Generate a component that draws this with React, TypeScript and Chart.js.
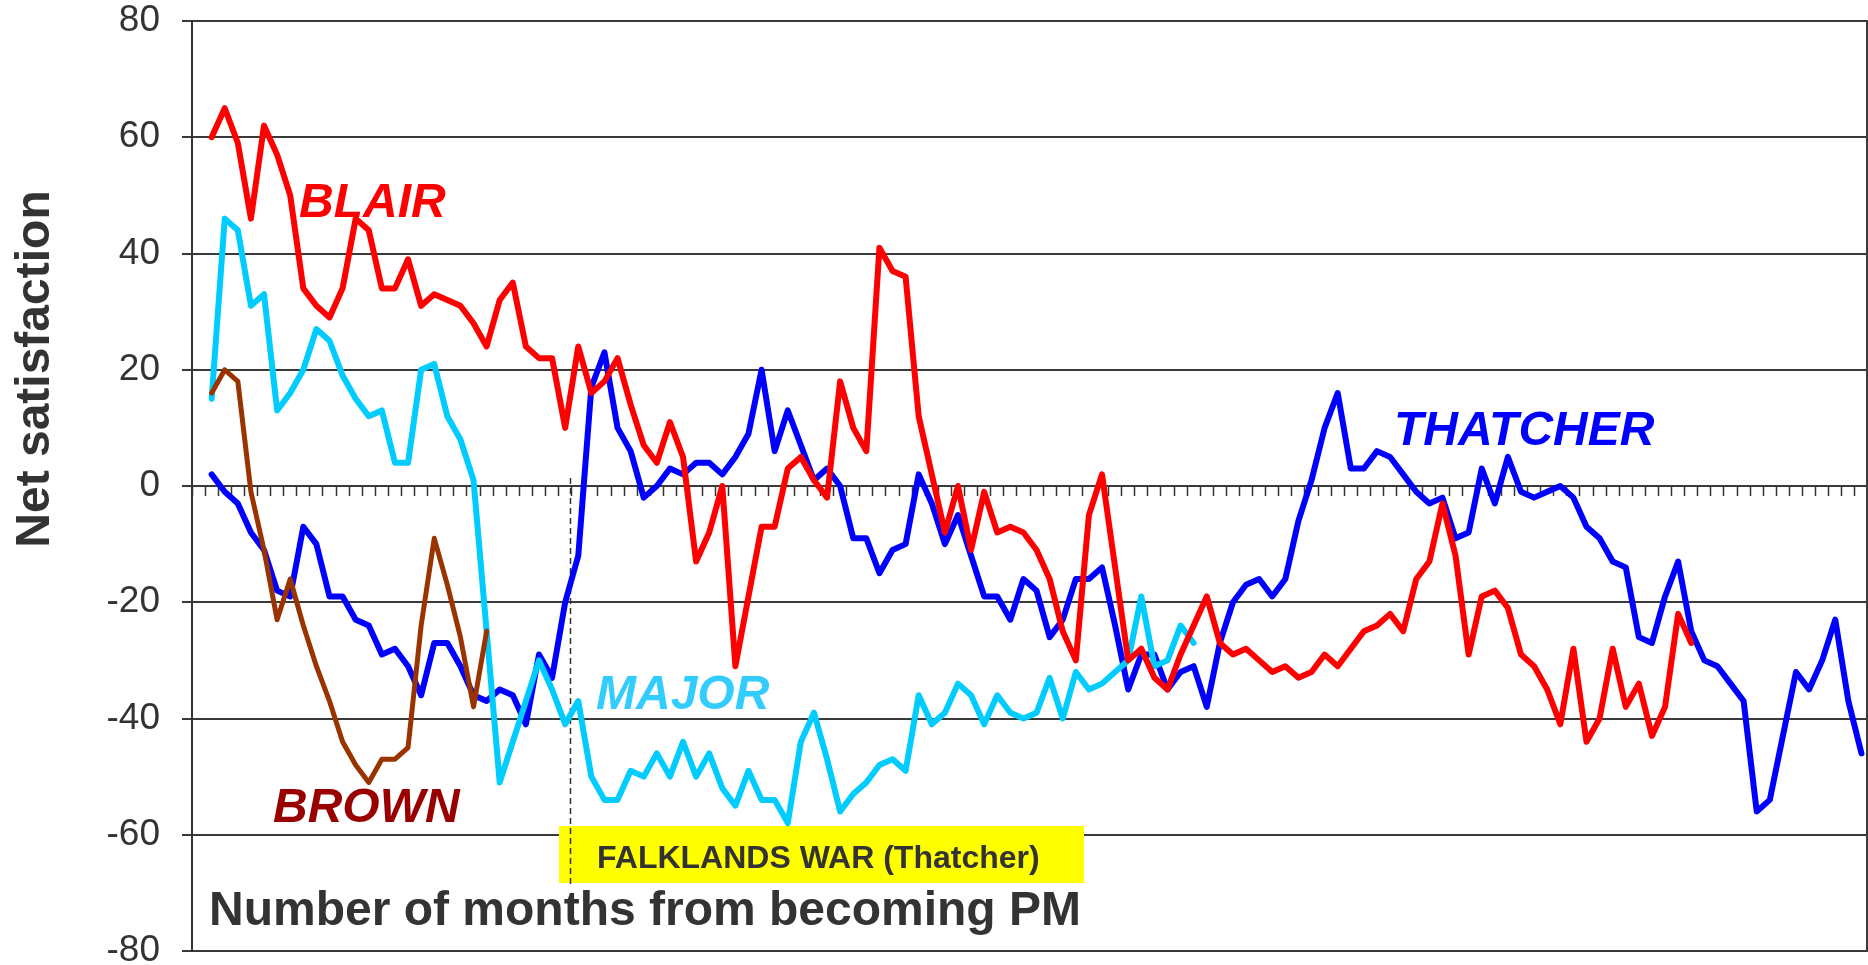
import React, { useEffect, useRef } from 'react';
import { Chart, registerables } from 'chart.js';

Chart.register(...registerables);

// Month index since becoming PM (category 0 has no poll)
const MONTHS = [
  0, 1, 2, 3, 4, 5, 6, 7, 8, 9, 10, 11, 12, 13, 14, 15, 16, 17, 18, 19,
  20, 21, 22, 23, 24, 25, 26, 27, 28, 29, 30, 31, 32, 33, 34, 35, 36, 37, 38, 39,
  40, 41, 42, 43, 44, 45, 46, 47, 48, 49, 50, 51, 52, 53, 54, 55, 56, 57, 58, 59,
  60, 61, 62, 63, 64, 65, 66, 67, 68, 69, 70, 71, 72, 73, 74, 75, 76, 77, 78, 79,
  80, 81, 82, 83, 84, 85, 86, 87, 88, 89, 90, 91, 92, 93, 94, 95, 96, 97, 98, 99,
  100, 101, 102, 103, 104, 105, 106, 107, 108, 109, 110, 111, 112, 113, 114, 115, 116, 117, 118, 119,
  120, 121, 122, 123, 124, 125, 126, 127,
];

const THATCHER = [
  null,
  2, -1, -3, -8, -11, -18, -19, -7, -10, -19,
  -19, -23, -24, -29, -28, -31, -36, -27, -27, -31,
  -36, -37, -35, -36, -41, -29, -33, -20, -12, 17,
  23, 10, 6, -2, 0, 3, 2, 4, 4, 2,
  5, 9, 20, 6, 13, 7, 1, 3, 0, -9,
  -9, -15, -11, -10, 2, -3, -10, -5, -12, -19,
  -19, -23, -16, -18, -26, -23, -16, -16, -14, -24,
  -35, -29, -29, -35, -32, -31, -38, -27, -20, -17,
  -16, -19, -16, -6, 1, 10, 16, 3, 3, 6,
  5, 2, -1, -3, -2, -9, -8, 3, -3, 5,
  -1, -2, -1, 0, -2, -7, -9, -13, -14, -26,
  -27, -19, -13, -25, -30, -31, -34, -37, -56, -54,
  -43, -32, -35, -30, -23, -37, -46,
];

const BLAIR = [
  null,
  60, 65, 59, 46, 62, 57, 50, 34, 31, 29,
  34, 46, 44, 34, 34, 39, 31, 33, 32, 31,
  28, 24, 32, 35, 24, 22, 22, 10, 24, 16,
  18, 22, 14, 7, 4, 11, 5, -13, -8, 0,
  -31, -19, -7, -7, 3, 5, 1, -2, 18, 10,
  6, 41, 37, 36, 12, 2, -8, 0, -11, -1,
  -8, -7, -8, -11, -16, -25, -30, -5, 2, -14,
  -30, -28, -33, -35, -29, -24, -19, -27, -29, -28,
  -30, -32, -31, -33, -32, -29, -31, -28, -25, -24,
  -22, -25, -16, -13, -3, -12, -29, -19, -18, -21,
  -29, -31, -35, -41, -28, -44, -40, -28, -38, -34,
  -43, -38, -22, -27,
];

const MAJOR = [
  null,
  15, 46, 44, 31, 33, 13, 16, 20, 27, 25,
  19, 15, 12, 13, 4, 4, 20, 21, 12, 8,
  1, -25, -51, -44, -37, -30, -35, -41, -37, -50,
  -54, -54, -49, -50, -46, -50, -44, -50, -46, -52,
  -55, -49, -54, -54, -58, -44, -39, -47, -56, -53,
  -51, -48, -47, -49, -36, -41, -39, -34, -36, -41,
  -36, -39, -40, -39, -33, -40, -32, -35, -34, -32,
  -30, -19, -31, -30, -24, -27,
];

const BROWN = [
  null,
  16, 20, 18, -1, -11, -23, -16, -24, -31, -37,
  -44, -48, -51, -47, -47, -45, -24, -9, -17, -26,
  -38, -25,
];

const Y_TICKS = [-80, -60, -40, -20, 0, 20, 40, 60, 80];

const FALKLANDS_AT = 28.35; // category position of the Falklands War marker

const FONT = '"Liberation Sans", Arial, Helvetica, sans-serif';

export default function App() {
  const ref = useRef<HTMLCanvasElement | null>(null);

  useEffect(() => {
    if (!ref.current) return;

    const annotations = {
      id: 'annotations',
      beforeDatasetsDraw(chart: any) {
        const { ctx, chartArea, scales } = chart;
        const x = scales.x;
        ctx.save();
        ctx.fillStyle = '#FFFF00';
        ctx.fillRect(559, 826, 525, 57);
        const fx = Math.round(x.getPixelForValue(FALKLANDS_AT)) + 0.5;
        ctx.strokeStyle = '#333333';
        ctx.lineWidth = 1.5;
        ctx.setLineDash([6, 4]);
        ctx.beginPath();
        ctx.moveTo(fx, 478);
        ctx.lineTo(fx, 887);
        ctx.stroke();
        ctx.setLineDash([]);
        ctx.strokeStyle = '#3a3a3a';
        ctx.lineWidth = 2;
        ctx.beginPath();
        ctx.moveTo(chartArea.right - 1, chartArea.top);
        ctx.lineTo(chartArea.right - 1, chartArea.bottom);
        ctx.stroke();
        ctx.restore();
      },
      afterDraw(chart: any) {
        const { ctx } = chart;
        ctx.save();
        ctx.textBaseline = 'alphabetic';
        ctx.textAlign = 'left';

        ctx.fillStyle = '#333333';
        ctx.font = `bold 32px ${FONT}`;
        ctx.fillText('FALKLANDS WAR (Thatcher)', 597, 868);

        ctx.font = `bold 48px ${FONT}`;
        ctx.fillText('Number of months from becoming PM', 209, 925);

        ctx.save();
        ctx.translate(49, 369);
        ctx.rotate(-Math.PI / 2);
        ctx.textAlign = 'center';
        ctx.font = `bold 48px ${FONT}`;
        ctx.fillText('Net satisfaction', 0, 0);
        ctx.restore();

        ctx.font = `italic bold 48px ${FONT}`;
        ctx.fillStyle = '#FF0000';
        ctx.fillText('BLAIR', 299, 217);
        ctx.fillStyle = '#990000';
        ctx.fillText('BROWN', 273, 822);
        ctx.fillStyle = '#33CCFF';
        ctx.fillText('MAJOR', 596, 709);
        ctx.fillStyle = '#0000FF';
        ctx.fillText('THATCHER', 1394, 445);
        ctx.restore();
      },
    };

    const line = (label: string, data: (number | null)[], color: string, width: number, order: number) => ({
      label,
      data,
      borderColor: color,
      backgroundColor: color,
      borderWidth: width,
      pointRadius: 0,
      pointHoverRadius: 0,
      fill: false,
      tension: 0,
      borderJoinStyle: 'round' as const,
      borderCapStyle: 'round' as const,
      order,
    });

    const chart = new Chart(ref.current, {
      type: 'line',
      data: {
        labels: MONTHS,
        datasets: [
          line('Brown', BROWN, '#993300', 5, 0),
          line('Blair', BLAIR, '#FF0000', 6, 1),
          line('Major', MAJOR, '#00CCFF', 6, 2),
          line('Thatcher', THATCHER, '#0000FF', 6, 3),
        ],
      },
      options: {
        animation: false,
        responsive: false,
        devicePixelRatio: 1,
        layout: { padding: { left: 0, right: 0, top: 21, bottom: 14 } },
        plugins: {
          legend: { display: false },
          tooltip: { enabled: false },
          title: { display: false },
        },
        scales: {
          x: {
            type: 'category',
            position: { y: 0 } as any,
            offset: true,
            grid: {
              offset: true,
              drawOnChartArea: false,
              drawTicks: true,
              tickLength: 10,
              tickColor: '#333333',
              tickWidth: 1.5,
            },
            border: { display: false },
            ticks: { display: false, autoSkip: false },
          },
          y: {
            min: -80,
            max: 80,
            afterBuildTicks: (s: any) => {
              s.ticks = Y_TICKS.map((v) => ({ value: v }));
            },
            afterFit: (s: any) => {
              s.width = 192;
              s.paddingTop = 0;
              s.paddingBottom = 0;
            },
            grid: {
              color: '#3a3a3a',
              lineWidth: 2,
              drawTicks: true,
              tickLength: 10,
              tickColor: '#3a3a3a',
            },
            border: { display: true, color: '#333333', width: 2 },
            ticks: {
              padding: 22,
              color: '#333333',
              font: { family: FONT, size: 37 },
            },
          },
        },
      },
      plugins: [annotations],
    });

    return () => chart.destroy();
  }, []);

  return (
    <div style={{ position: 'fixed', left: 0, top: 0, width: 1868, height: 965, background: '#ffffff' }}>
      <canvas ref={ref} width={1868} height={965} style={{ display: 'block' }} />
    </div>
  );
}
